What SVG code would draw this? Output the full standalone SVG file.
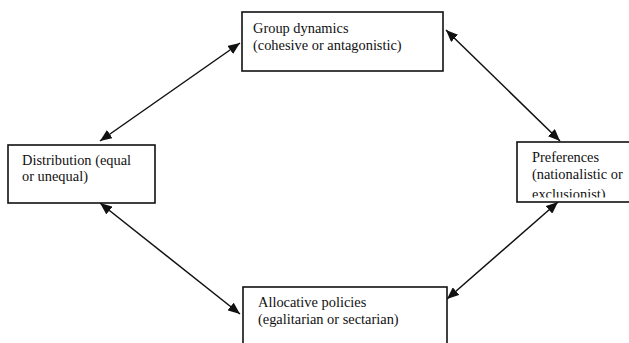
<svg xmlns="http://www.w3.org/2000/svg" width="629" height="343" viewBox="0 0 629 343">
<style>
.box{fill:#fff;stroke:#111;stroke-width:1.6}
.t{font-family:"Liberation Serif","Times New Roman",serif;font-size:14.4px;fill:#111}
.c{stroke:#111;stroke-width:1.5;fill:none;marker-start:url(#ah);marker-end:url(#ah)}
</style>
<defs>
<marker id="ah" viewBox="0 0 12 10" refX="12" refY="5" markerWidth="12" markerHeight="10" markerUnits="userSpaceOnUse" orient="auto-start-reverse">
<path d="M0,0 L12,5 L0,10 Z" fill="#111"/>
</marker>
<clipPath id="clipPref"><rect x="517" y="142" width="112" height="55.5"/></clipPath>
</defs>
<g id="connectors">
<line class="c" x1="100" y1="141" x2="240" y2="43"/>
<line class="c" x1="446" y1="30" x2="560" y2="141"/>
<line class="c" x1="100" y1="203" x2="240" y2="314"/>
<line class="c" x1="558" y1="202" x2="447" y2="299"/>
</g>
<g id="group-dynamics">
<rect class="box" x="242" y="12" width="201" height="59"/>
<text class="t" x="253" y="33">Group dynamics</text>
<text class="t" x="253" y="50">(cohesive or antagonistic)</text>
</g>
<g id="distribution">
<rect class="box" x="8" y="145" width="147" height="58"/>
<text class="t" x="22" y="165">Distribution (equal</text>
<text class="t" x="22" y="181">or unequal)</text>
</g>
<g id="preferences">
<rect class="box" x="517" y="142" width="114" height="60"/>
<g clip-path="url(#clipPref)">
<text class="t" x="532" y="162">Preferences</text>
<text class="t" x="532" y="179">(nationalistic or</text>
<text class="t" x="532" y="199">exclusionist)</text>
</g>
</g>
<g id="allocative-policies">
<rect class="box" x="243" y="287" width="204" height="60"/>
<text class="t" x="258" y="307">Allocative policies</text>
<text class="t" x="258" y="324">(egalitarian or sectarian)</text>
</g>
</svg>
